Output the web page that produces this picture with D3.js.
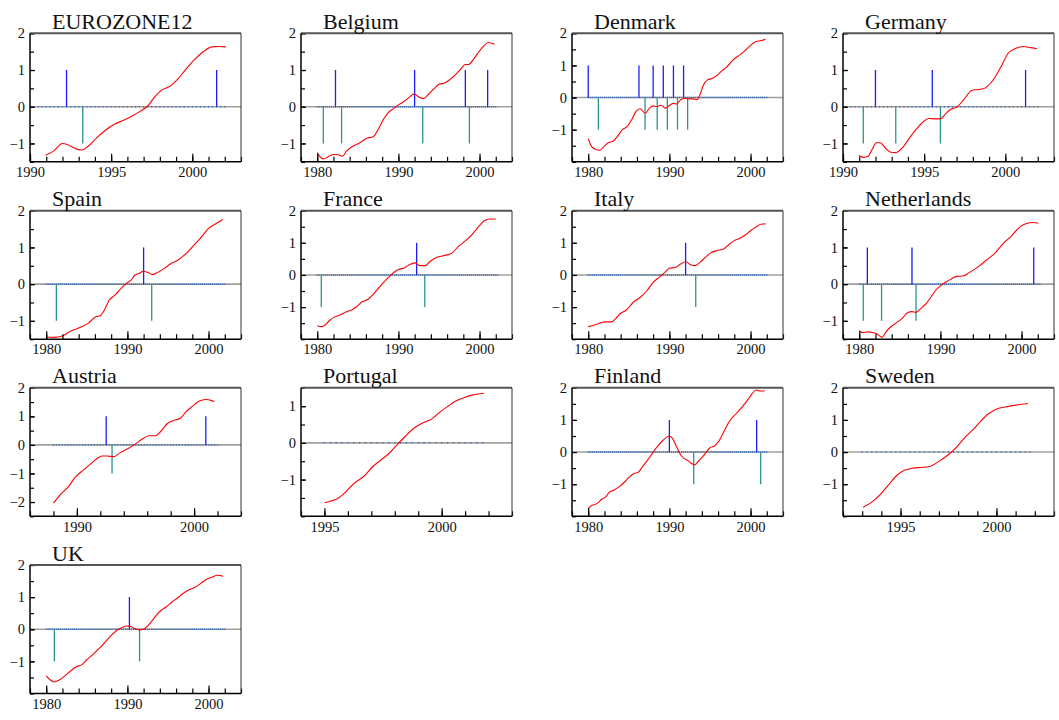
<!DOCTYPE html>
<html>
<head>
<meta charset="utf-8">
<script src="https://d3js.org/d3.v7.min.js"></script>
<style>
body { margin: 0; background: #fff; }
svg, svg text { font-family: "Liberation Serif", "Times New Roman", serif; }
</style>
</head>
<body>
<svg id="chart" width="1059" height="720"></svg>
<script>

// panel titles, in grid order
const countries = ["EUROZONE12", "Belgium", "Denmark", "Germany", "Spain", "France",
                   "Italy", "Netherlands", "Austria", "Portugal", "Finland", "Sweden", "UK"];

// smoothed series, [year, value]
const ezLine = [[1990.95,-1.32],[1991.45,-1.21],[1992.0,-1.0],[1992.3,-1.03],[1992.7,-1.12],[1993.2,-1.18],
  [1993.6,-1.07],[1994.1,-0.85],[1994.65,-0.64],[1995.2,-0.48],[1995.8,-0.36],[1996.3,-0.25],[1996.8,-0.12],
  [1997.25,0.02],[1997.65,0.25],[1998.05,0.43],[1998.7,0.58],[1999.1,0.75],[1999.6,1.02],[2000.15,1.29],
  [2000.65,1.49],[2001.2,1.63],[2001.6,1.64],[2002.07,1.63]];
const beLine = [[1980.0,-1.25],[1980.3,-1.35],[1980.75,-1.42],[1981.35,-1.36],[1982.05,-1.3],[1982.6,-1.31],
  [1983.1,-1.35],[1983.6,-1.21],[1984.45,-1.07],[1985.25,-0.98],[1986.1,-0.86],[1986.9,-0.82],[1987.5,-0.62],
  [1988.15,-0.35],[1988.75,-0.16],[1989.4,-0.05],[1990.0,0.05],[1990.6,0.13],[1991.25,0.24],[1991.95,0.35],
  [1992.45,0.27],[1993.1,0.22],[1993.7,0.34],[1994.3,0.47],[1995.0,0.61],[1995.75,0.65],[1996.4,0.75],
  [1997.2,0.91],[1997.8,1.06],[1998.25,1.15],[1998.65,1.15],[1999.25,1.29],[1999.9,1.49],[2000.5,1.65],
  [2001.05,1.75],[2001.85,1.7]];
const dkLine = [[1980.0,-1.28],[1980.4,-1.52],[1980.95,-1.62],[1981.45,-1.64],[1981.95,-1.52],[1982.5,-1.4],
  [1983.0,-1.37],[1983.6,-1.21],[1984.2,-1.0],[1984.8,-0.9],[1985.35,-0.69],[1985.9,-0.43],[1986.4,-0.35],
  [1987.0,-0.49],[1987.55,-0.33],[1987.95,-0.26],[1988.45,-0.28],[1988.95,-0.24],[1989.5,-0.33],[1990.0,-0.25],
  [1990.5,-0.18],[1990.9,-0.2],[1991.4,-0.07],[1991.95,-0.03],[1992.5,-0.04],[1993.0,-0.04],[1993.4,-0.07],
  [1993.8,0.11],[1994.2,0.39],[1994.7,0.55],[1995.25,0.59],[1995.9,0.7],[1996.5,0.84],[1997.1,0.96],
  [1997.75,1.15],[1998.35,1.27],[1999.05,1.4],[1999.8,1.58],[2000.6,1.74],[2001.25,1.77],[2001.85,1.81]];
const deLine = [[1991.0,-1.33],[1991.25,-1.38],[1991.55,-1.35],[1991.8,-1.16],[1992.05,-0.98],[1992.3,-0.98],
  [1992.6,-1.12],[1992.95,-1.24],[1993.25,-1.25],[1993.7,-1.1],[1994.1,-0.85],[1994.6,-0.57],[1995.0,-0.39],
  [1995.3,-0.32],[1995.7,-0.33],[1996.0,-0.33],[1996.35,-0.18],[1996.65,-0.07],[1997.05,0.0],[1997.45,0.2],
  [1997.95,0.45],[1998.35,0.47],[1998.65,0.49],[1999.2,0.7],[1999.7,1.06],[2000.2,1.47],[2000.6,1.58],
  [2001.1,1.64],[2001.55,1.61],[2001.95,1.58]];
const esLine = [[1980.0,-1.44],[1980.95,-1.45],[1982.0,-1.41],[1983.0,-1.28],[1984.05,-1.19],[1985.15,-1.07],
  [1986.1,-0.89],[1986.65,-0.86],[1987.15,-0.71],[1987.75,-0.44],[1988.6,-0.27],[1989.2,-0.12],[1990.0,0.04],
  [1990.45,0.11],[1990.95,0.25],[1991.45,0.29],[1991.95,0.35],[1992.5,0.32],[1993.1,0.26],[1993.75,0.32],
  [1994.55,0.43],[1995.4,0.56],[1996.2,0.65],[1996.8,0.75],[1997.45,0.88],[1998.2,1.06],[1999.0,1.25],
  [2000.0,1.52],[2000.95,1.65],[2001.75,1.76]];
const frLine = [[1980.0,-1.58],[1980.55,-1.61],[1981.05,-1.54],[1981.55,-1.41],[1982.05,-1.32],[1982.8,-1.25],
  [1983.55,-1.15],[1984.25,-1.09],[1984.85,-0.99],[1985.45,-0.85],[1986.3,-0.75],[1987.1,-0.54],[1987.95,-0.29],
  [1988.75,-0.08],[1989.4,0.07],[1990.0,0.17],[1990.7,0.22],[1991.45,0.33],[1992.05,0.375],[1992.65,0.29],
  [1993.3,0.29],[1993.9,0.42],[1994.75,0.55],[1995.55,0.6],[1996.6,0.68],[1997.4,0.89],[1998.25,1.06],
  [1999.05,1.25],[1999.9,1.51],[2000.7,1.7],[2001.4,1.74],[2002.0,1.74]];
const itLine = [[1980.0,-1.61],[1981.0,-1.54],[1982.0,-1.46],[1982.85,-1.46],[1983.4,-1.35],[1983.95,-1.2],
  [1984.7,-1.09],[1985.55,-0.85],[1986.35,-0.71],[1987.2,-0.5],[1988.0,-0.23],[1988.85,-0.05],[1989.45,0.08],
  [1990.0,0.21],[1990.7,0.23],[1991.4,0.34],[1992.05,0.41],[1992.65,0.31],[1993.2,0.29],[1993.8,0.4],
  [1994.4,0.54],[1995.05,0.68],[1995.85,0.76],[1996.7,0.81],[1997.3,0.94],[1997.95,1.06],[1998.75,1.15],
  [1999.4,1.25],[2000.0,1.375],[2000.6,1.48],[2001.25,1.58],[2001.85,1.59]];
const nlLine = [[1980.0,-1.27],[1980.4,-1.32],[1981.05,-1.3],[1981.65,-1.32],[1982.15,-1.35],[1982.5,-1.41],
  [1982.8,-1.45],[1983.3,-1.3],[1983.9,-1.16],[1984.6,-1.05],[1985.35,-0.92],[1985.95,-0.78],[1986.5,-0.75],
  [1987.0,-0.77],[1987.6,-0.66],[1988.25,-0.53],[1988.85,-0.35],[1989.45,-0.16],[1990.1,-0.03],[1990.7,0.06],
  [1991.35,0.14],[1991.95,0.21],[1992.8,0.22],[1993.6,0.32],[1994.65,0.47],[1995.65,0.65],[1996.7,0.84],
  [1997.75,1.11],[1998.75,1.31],[1999.8,1.56],[2000.6,1.65],[2001.45,1.68],[2002.05,1.66]];
const atLine = [[1988.0,-2.04],[1988.55,-1.76],[1989.3,-1.45],[1989.85,-1.14],[1990.55,-0.88],[1991.3,-0.62],
  [1991.85,-0.44],[1992.15,-0.39],[1992.55,-0.39],[1993.15,-0.41],[1993.7,-0.27],[1994.45,-0.11],[1995.0,0.035],
  [1995.55,0.2],[1996.15,0.32],[1996.7,0.32],[1997.15,0.47],[1997.7,0.74],[1998.3,0.86],[1998.85,0.94],
  [1999.35,1.18],[1999.85,1.35],[2000.4,1.53],[2001.0,1.59],[2001.45,1.56],[2001.7,1.51]];
const ptLine = [[1995.0,-1.63],[1995.25,-1.59],[1995.55,-1.52],[1995.9,-1.34],[1996.25,-1.11],[1996.7,-0.9],
  [1997.05,-0.65],[1997.4,-0.47],[1997.75,-0.29],[1998.1,-0.05],[1998.45,0.18],[1998.8,0.39],[1999.15,0.53],
  [1999.6,0.66],[1999.95,0.85],[2000.3,1.01],[2000.6,1.14],[2000.95,1.23],[2001.3,1.3],[2001.8,1.35]];
const fiLine = [[1980.0,-1.77],[1980.35,-1.67],[1980.75,-1.64],[1981.15,-1.59],[1981.7,-1.46],[1982.1,-1.41],
  [1982.6,-1.25],[1983.2,-1.18],[1983.85,-1.07],[1984.45,-0.94],[1985.05,-0.78],[1985.7,-0.66],[1986.1,-0.64],
  [1986.7,-0.45],[1987.2,-0.29],[1987.75,-0.1],[1988.15,0.05],[1988.75,0.24],[1989.2,0.36],[1989.6,0.45],
  [1990.0,0.49],[1990.4,0.42],[1990.8,0.21],[1991.25,-0.03],[1991.75,-0.19],[1992.25,-0.26],[1992.65,-0.34],
  [1993.1,-0.4],[1993.5,-0.31],[1994.05,-0.16],[1994.55,0.0],[1995.0,0.135],[1995.55,0.19],[1996.15,0.36],
  [1996.8,0.68],[1997.4,0.96],[1998.25,1.2],[1999.05,1.43],[1999.7,1.64],[2000.2,1.82],[2000.7,1.93],
  [2001.2,1.9],[2001.75,1.9]];
const seLine = [[1993.05,-1.72],[1993.5,-1.56],[1993.9,-1.35],[1994.35,-1.04],[1994.8,-0.73],[1995.2,-0.57],
  [1995.65,-0.5],[1996.05,-0.48],[1996.5,-0.45],[1997.0,-0.29],[1997.45,-0.1],[1997.9,0.135],[1998.3,0.42],
  [1998.75,0.68],[1999.15,0.94],[1999.6,1.2],[2000.05,1.35],[2000.45,1.4],[2001.0,1.46],[2001.65,1.51]];
const ukLine = [[1980.0,-1.45],[1980.5,-1.58],[1981.0,-1.64],[1981.6,-1.58],[1982.3,-1.45],[1983.0,-1.3],
  [1983.7,-1.17],[1984.4,-1.1],[1985.0,-0.95],[1985.6,-0.82],[1986.3,-0.65],[1986.9,-0.5],[1987.5,-0.33],
  [1988.1,-0.17],[1988.7,-0.03],[1989.3,0.05],[1989.9,0.1],[1990.4,0.09],[1990.9,0.02],[1991.5,-0.02],
  [1992.0,0.0],[1992.5,0.1],[1993.0,0.25],[1993.6,0.45],[1994.2,0.6],[1994.8,0.7],[1995.5,0.85],[1996.2,0.98],
  [1996.9,1.12],[1997.6,1.23],[1998.3,1.3],[1999.0,1.42],[1999.7,1.55],[2000.4,1.62],[2001.1,1.68],[2001.8,1.65]];

// impulse dummies: dates of +1 and -1 spikes
const ezUp = [1992.25, 2001.5],  ezDown = [1993.25];
const beUp = [1982.25, 1992.0, 1998.25, 2001.0],  beDown = [1980.75, 1983.0, 1993.0, 1998.75];
const dkUp = [1980.0, 1986.25, 1988.0, 1989.25, 1990.5, 1991.75];
const dkDown = [1981.25, 1987.0, 1988.5, 1989.75, 1991.0, 1992.25];
const deUp = [1992.0, 1995.5, 2001.25],  deDown = [1991.25, 1993.25, 1996.0];
const esUp = [1992.0],  esDown = [1981.25, 1993.0];
const frUp = [1992.25], frDown = [1980.5, 1993.25];
const itUp = [1992.0],  itDown = [1993.25];
const nlUp = [1981.0, 1986.5, 2001.5],  nlDown = [1980.5, 1982.75, 1987.0];
const atUp = [1992.5, 2001.0],  atDown = [1993.0];
const ptUp = [], ptDown = [];
const fiUp = [1990.0, 2000.75],  fiDown = [1993.0, 2001.25];
const seUp = [], seDown = [];
const ukUp = [1990.25],  ukDown = [1981.0, 1991.5];

// first and last quarter of each dummy series
const dummySpans = [[1990.5, 2002], [1980, 2002], [1980, 2002], [1990.5, 2002], [1980, 2002], [1980, 2002.25],
                    [1980, 2002], [1980, 2002.25], [1988, 2002], [1995, 2001.75], [1980, 2002], [1993, 2001.75], [1980, 2002]];

// axis ranges
const xRanges = [[1990, 2003], [1978, 2004], [1978, 2004], [1990, 2003], [1978, 2004], [1978, 2004], [1978, 2004],
                 [1978, 2004], [1986, 2004], [1994, 2003], [1978, 2004], [1992, 2003], [1978, 2004]];
const yRanges = [[-1.5, 2], [-1.5, 2], [-2, 2], [-1.5, 2], [-1.5, 2], [-2, 2], [-2, 2],
                 [-1.5, 2], [-2.5, 2], [-2, 1.5], [-2, 2], [-2, 2], [-2, 2]];

const lines = [ezLine, beLine, dkLine, deLine, esLine, frLine, itLine, nlLine, atLine, ptLine, fiLine, seLine, ukLine];
const ups = [ezUp, beUp, dkUp, deUp, esUp, frUp, itUp, nlUp, atUp, ptUp, fiUp, seUp, ukUp];
const downs = [ezDown, beDown, dkDown, deDown, esDown, frDown, itDown, nlDown, atDown, ptDown, fiDown, seDown, ukDown];

// layout
const svg = d3.select("#chart");
const colLeft = [30, 301, 572, 843];
const rowTop = [33.3, 210.7, 387.8, 565];
const pw = 211, ph = 128.5;
const serif = "'Liberation Serif', 'Times New Roman', serif";

countries.forEach((name, i) => {
    const g = svg.append("g")
        .attr("transform", `translate(${colLeft[i % 4]},${rowTop[Math.floor(i / 4)]})`);

    const x = d3.scaleLinear().domain(xRanges[i]).range([0, pw]);
    const y = d3.scaleLinear().domain(yRanges[i]).range([ph, 0]);

    // grey zero line
    g.append("line")
        .attr("x1", 0).attr("x2", pw)
        .attr("y1", y(0)).attr("y2", y(0))
        .attr("stroke", "#a0a0a0").attr("stroke-width", 1.6);

    // dummy series sitting at zero, one dot per quarter
    const q = x(xRanges[i][0] + 0.25) - x(xRanges[i][0]);
    g.append("line")
        .attr("x1", x(dummySpans[i][0]) - 0.6).attr("x2", x(dummySpans[i][1]) + 0.6)
        .attr("y1", y(0)).attr("y2", y(0))
        .attr("stroke", "#3a6cb8").attr("stroke-width", 1.5)
        .attr("stroke-dasharray", `1.2,${q - 1.2}`);

    // spikes
    g.selectAll("line.up").data(ups[i]).join("line")
        .attr("class", "up")
        .attr("x1", d => x(d)).attr("x2", d => x(d))
        .attr("y1", y(0)).attr("y2", y(1))
        .attr("stroke", "#1c1cff").attr("stroke-width", 1.3);

    g.selectAll("line.down").data(downs[i]).join("line")
        .attr("class", "down")
        .attr("x1", d => x(d)).attr("x2", d => x(d))
        .attr("y1", y(0)).attr("y2", y(-1))
        .attr("stroke", "#2b948e").attr("stroke-width", 1.3);

    // red series
    g.append("path").datum(lines[i])
        .attr("fill", "none")
        .attr("stroke", "#ff0000").attr("stroke-width", 1.1)
        .attr("d", d3.line().x(d => x(d[0])).y(d => y(d[1])).curve(d3.curveMonotoneX));

    // y axis: minor every 0.5, labelled integers (bottom edge left blank)
    const [y0, y1] = yRanges[i];
    const yMinor = d3.range(Math.ceil(y0 * 2) / 2, y1 + 0.01, 0.5);
    const yMajor = yMinor.filter(v => Number.isInteger(v) && v > y0);

    const yMinorAxis = g.append("g").call(d3.axisLeft(y).tickValues(yMinor).tickSize(-4).tickFormat(""));
    const yAxis = g.append("g").call(d3.axisLeft(y).tickValues(yMajor).tickSize(-5).tickPadding(5)
        .tickFormat(d3.format("d")));

    // x axis
    const [x0, x1] = xRanges[i];
    const step = (x1 - x0) > 15 ? 2 : 1;
    const labelStep = (x1 - x0) > 15 ? 10 : 5;
    const xMinor = d3.range(x0, x1 + 0.01, step);
    const xMajor = xMinor.filter(v => v % labelStep === 0);

    const xMinorAxis = g.append("g").attr("transform", `translate(0,${ph})`)
        .call(d3.axisBottom(x).tickValues(xMinor).tickSize(-5).tickFormat(""));
    const xAxis = g.append("g").attr("transform", `translate(0,${ph})`)
        .call(d3.axisBottom(x).tickValues(xMajor).tickSize(-8).tickPadding(5).tickFormat(d3.format("d")));

    [yMinorAxis, yAxis, xMinorAxis, xAxis].forEach(a => {
        a.attr("font-family", serif).attr("font-size", 14.5);
        a.select(".domain").remove();
        a.selectAll("line").attr("stroke", "#000").attr("stroke-width", 1.2);
        a.selectAll("text").attr("fill", "#111").style("font-family", serif).style("font-size", "14.5px");
    });

    // frame
    g.append("line").attr("x1", 0).attr("x2", pw).attr("y1", 0).attr("y2", 0)
        .attr("stroke", "#555").attr("stroke-width", 2);
    g.append("line").attr("x1", pw).attr("x2", pw).attr("y1", 0).attr("y2", ph)
        .attr("stroke", "#333").attr("stroke-width", 1);
    g.append("line").attr("x1", 0).attr("x2", 0).attr("y1", 0).attr("y2", ph)
        .attr("stroke", "#000").attr("stroke-width", 1.5);
    g.append("line").attr("x1", 0).attr("x2", pw).attr("y1", ph).attr("y2", ph)
        .attr("stroke", "#000").attr("stroke-width", 1.5);

    // title
    g.append("text")
        .attr("x", 22).attr("y", -4.5)
        .style("font-family", serif).style("font-size", "22px").attr("fill", "#111")
        .text(name);
});

</script>
</body>
</html>
